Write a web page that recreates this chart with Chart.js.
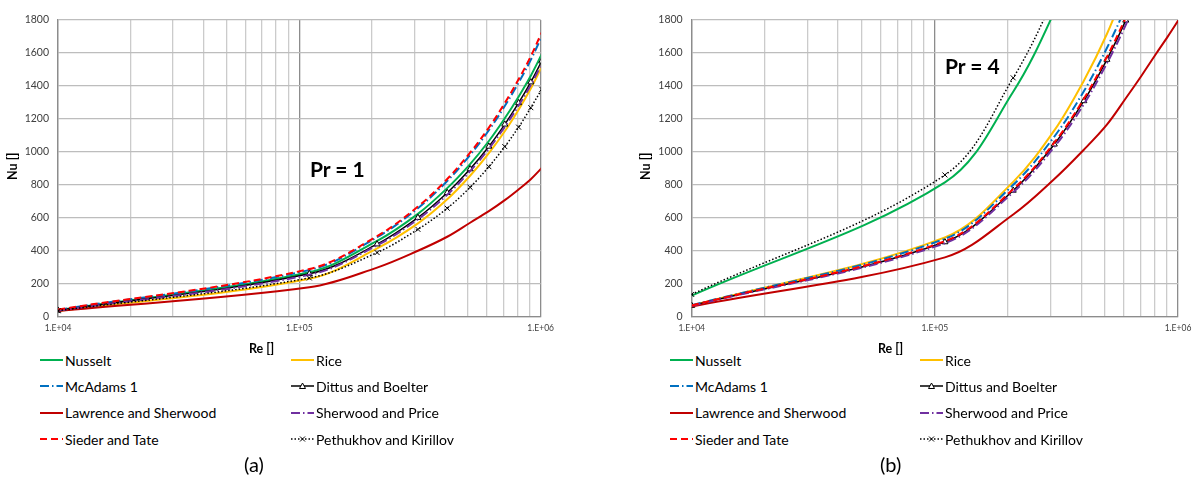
<!DOCTYPE html>
<html>
<head>
<meta charset="utf-8">
<script src="https://cdn.jsdelivr.net/npm/chart.js@4.4.0/dist/chart.umd.min.js"></script>
<style>
  body { margin: 0; background: #fff; font-family: Lato, "Open Sans", sans-serif; color: #000; }
  #page { position: relative; width: 1200px; height: 477px; overflow: hidden; }
  .panel { position: absolute; top: 0; width: 560px; height: 345px; }
  .txt { position: absolute; white-space: nowrap; line-height: 1; }
  .axisTitle { font-weight: bold; font-size: 12.5px; }
  .prLabel { font-weight: bold; font-size: 21px; }
  .caption { font-size: 20px; }
  .legItem { position: absolute; height: 18px; display: flex; align-items: center; font-size: 14px; white-space: nowrap; }
  .legItem svg { margin-right: 2px; }
</style>
</head>
<body>
<div id="page">
  <div class="panel" style="left:0"><canvas id="chartA"></canvas></div>
  <div class="panel" style="left:640px"><canvas id="chartB"></canvas></div>
</div>
<script>
// Reynolds numbers of the computed points
const reValues = [1e4, 1.1e5, 2.1e5, 3.1e5, 4.1e5, 5.1e5, 6.1e5, 7.1e5, 8.1e5, 9.1e5, 1.01e6];

// axis ticks
const xDecades = [1e4, 1e5, 1e6];
const xTickLabels = ["1.E+04", "1.E+05", "1.E+06"];
const yTicks = [0, 200, 400, 600, 800, 1000, 1200, 1400, 1600, 1800];

const seriesNames = ["Nusselt", "Rice", "McAdams 1", "Dittus and Boelter",
  "Lawrence and Sherwood", "Sherwood and Price", "Sieder and Tate", "Pethukhov and Kirillov"];

// (a) Pr = 1
const nusseltA   = [40, 270, 460, 624, 780, 926, 1066, 1204, 1335, 1462, 1592];
const riceA      = [34, 230, 414, 566, 712, 855, 992, 1125, 1256, 1384, 1516];
const mcadamsA   = [42, 283, 482, 658, 823, 981, 1131, 1278, 1420, 1558, 1700];
const dittusA    = [38, 260, 440, 601, 752, 896, 1033, 1167, 1297, 1423, 1550];
const lawrenceA  = [35, 178, 298, 400, 485, 570, 640, 707, 772, 834, 902];
const sherwoodA  = [37, 254, 433, 591, 740, 883, 1019, 1152, 1281, 1406, 1534];
const siederA    = [43, 289, 489, 668, 835, 995, 1147, 1296, 1440, 1580, 1725];
const pethukhovA = [36, 235, 389, 530, 658, 785, 910, 1032, 1150, 1268, 1380];

// (b) Pr = 4
const nusseltB   = [128, 815, 1365, 1850, 2300, 2720, 3120, 3500, 3870, 4220, 4560];
const riceB      = [68, 481, 818, 1130, 1432, 1715, 2000, 2270, 2530, 2790, 3040];
const mcadamsB   = [69, 473, 800, 1093, 1368, 1630, 1879, 2123, 2360, 2588, 2814];
const dittusB    = [67, 453, 766, 1046, 1309, 1560, 1798, 2032, 2258, 2477, 2693];
const lawrenceB  = [62, 360, 620, 835, 1013, 1165, 1325, 1465, 1592, 1702, 1805];
const sherwoodB  = [66, 446, 755, 1030, 1289, 1537, 1771, 2002, 2224, 2440, 2653];
const siederB    = [68, 458, 774, 1056, 1322, 1576, 1816, 2052, 2281, 2502, 2720];
const pethukhovB = [135, 860, 1449, 1946, 2420, 2860, 3280, 3680, 4060, 4430, 4790];

// line styles, same order as seriesNames
const styles = [
  { color: "#00b050", width: 2, dash: [] },
  { color: "#ffc000", width: 2, dash: [] },
  { color: "#0070c0", width: 2, dash: [9, 3, 1.5, 3] },
  { color: "#000000", width: 1.5, dash: [], marker: "triangle" },
  { color: "#c00000", width: 2, dash: [] },
  { color: "#7030a0", width: 2, dash: [9, 3, 1.5, 3] },
  { color: "#ff0000", width: 2, dash: [7, 4] },
  { color: "#000000", width: 1.5, dash: [1.5, 2], marker: "crossRot" }
];

// minor + major grid positions along x
const xGrid = [];
xDecades.forEach((d, i) => {
  xGrid.push(d);
  if (i < xDecades.length - 1) for (let m = 2; m <= 9; m++) xGrid.push(d * m);
});

function buildDatasets(valueSets) {
  return valueSets.map((vals, i) => {
    const st = styles[i];
    return {
      label: seriesNames[i],
      data: reValues.map((re, j) => ({ x: re, y: vals[j] })),
      borderColor: st.color,
      borderWidth: st.width,
      borderDash: st.dash,
      pointStyle: st.marker || "circle",
      pointRadius: st.marker ? 3.5 : 0,
      pointBorderColor: "#000",
      pointBorderWidth: 1,
      pointBackgroundColor: "#fff",
      order: valueSets.length - i,
      fill: false
    };
  });
}

function makeChart(id, valueSets, yAxisWidth, rightPad) {
  return new Chart(document.getElementById(id), {
    type: "line",
    data: { datasets: buildDatasets(valueSets) },
    options: {
      responsive: true,
      maintainAspectRatio: false,
      animation: false,
      layout: { padding: { left: 0, right: rightPad, top: 20, bottom: 0 } },
      plugins: { legend: { display: false }, tooltip: { enabled: false } },
      elements: { line: { tension: 0.35, capBezierPoints: false } },
      scales: {
        x: {
          type: "logarithmic",
          min: 1e4,
          max: 1e6,
          afterBuildTicks: (s) => { s.ticks = xGrid.map((v) => ({ value: v })); },
          afterFit: (s) => { s.height = 28.3; },
          ticks: {
            autoSkip: false,
            maxRotation: 0,
            padding: 6,
            color: "#404040",
            font: { family: "Lato", size: 8.5 },
            callback: (v) => {
              const k = xDecades.indexOf(v);
              return k >= 0 ? xTickLabels[k] : "";
            }
          },
          grid: {
            drawTicks: false,
            color: (c) => (c.tick && xDecades.includes(c.tick.value) ? "#8c8c8c" : "#cbcbcb"),
            lineWidth: 1.3
          },
          border: { color: "#8c8c8c", width: 1.3 }
        },
        y: {
          min: yTicks[0],
          max: yTicks[yTicks.length - 1],
          afterFit: (s) => { s.width = yAxisWidth; },
          afterBuildTicks: (s) => { s.ticks = yTicks.map((v) => ({ value: v })); },
          ticks: {
            padding: 9,
            color: "#404040",
            font: { family: "Lato", size: 10.5 },
            callback: (v) => String(v)
          },
          grid: { drawTicks: false, color: "#bdbdbd", lineWidth: 1.3 },
          border: { color: "#8c8c8c", width: 1.3 }
        }
      }
    }
  });
}

makeChart("chartA", [nusseltA, riceA, mcadamsA, dittusA, lawrenceA, sherwoodA, siederA, pethukhovA], 58, 15);
makeChart("chartB", [nusseltB, riceB, mcadamsB, dittusB, lawrenceB, sherwoodB, siederB, pethukhovB], 51.7, 22);

// text and legend
const page = document.getElementById("page");
function addText(cls, text, left, top, extra) {
  const d = document.createElement("div");
  d.className = "txt " + cls;
  d.textContent = text;
  d.style.left = left + "px";
  d.style.top = top + "px";
  if (extra) d.style.cssText += extra;
  page.appendChild(d);
  return d;
}

[{ pr: "Pr = 1", prX: 310, prY: 158, reX: 249, capX: 244, cap: "(a)", nuX: 9 },
 { pr: "Pr = 4", prX: 945, prY: 55, reX: 878, capX: 880, cap: "(b)", nuX: 642 }].forEach((p) => {
  addText("prLabel", p.pr, p.prX, p.prY);
  addText("axisTitle", "Re []", p.reX, 343);
  addText("axisTitle", "Nu []", p.nuX - 9, 160, "transform:rotate(-90deg);transform-origin:center;");
  addText("caption", p.cap, p.capX, 454);
});

const legendCols = [[40, 291], [670, 920]];
const legendRows = [360, 386.3, 412.6, 439];
function sampleSvg(st) {
  const w = 23;
  let s = '<svg width="' + w + '" height="10" viewBox="0 0 ' + w + ' 10">';
  s += '<line x1="0" y1="5" x2="' + w + '" y2="5" stroke="' + st.color + '" stroke-width="' + st.width + '"' +
       (st.dash.length ? ' stroke-dasharray="' + st.dash.join(" ") + '"' : "") + "/>";
  if (st.marker === "triangle") s += '<polygon points="11.5,2 14.5,7.5 8.5,7.5" fill="#fff" stroke="#000" stroke-width="1"/>';
  if (st.marker === "crossRot") s += '<path d="M9,2.5 L14,7.5 M14,2.5 L9,7.5" stroke="#000" stroke-width="1"/>';
  return s + "</svg>";
}
legendCols.forEach((cols) => {
  seriesNames.forEach((name, i) => {
    const d = document.createElement("div");
    d.className = "legItem";
    d.style.left = cols[i % 2] + "px";
    d.style.top = (legendRows[Math.floor(i / 2)] - 9) + "px";
    d.innerHTML = sampleSvg(styles[i]);
    const sp = document.createElement("span");
    sp.textContent = name;
    d.appendChild(sp);
    page.appendChild(d);
  });
});
</script>
</body>
</html>
